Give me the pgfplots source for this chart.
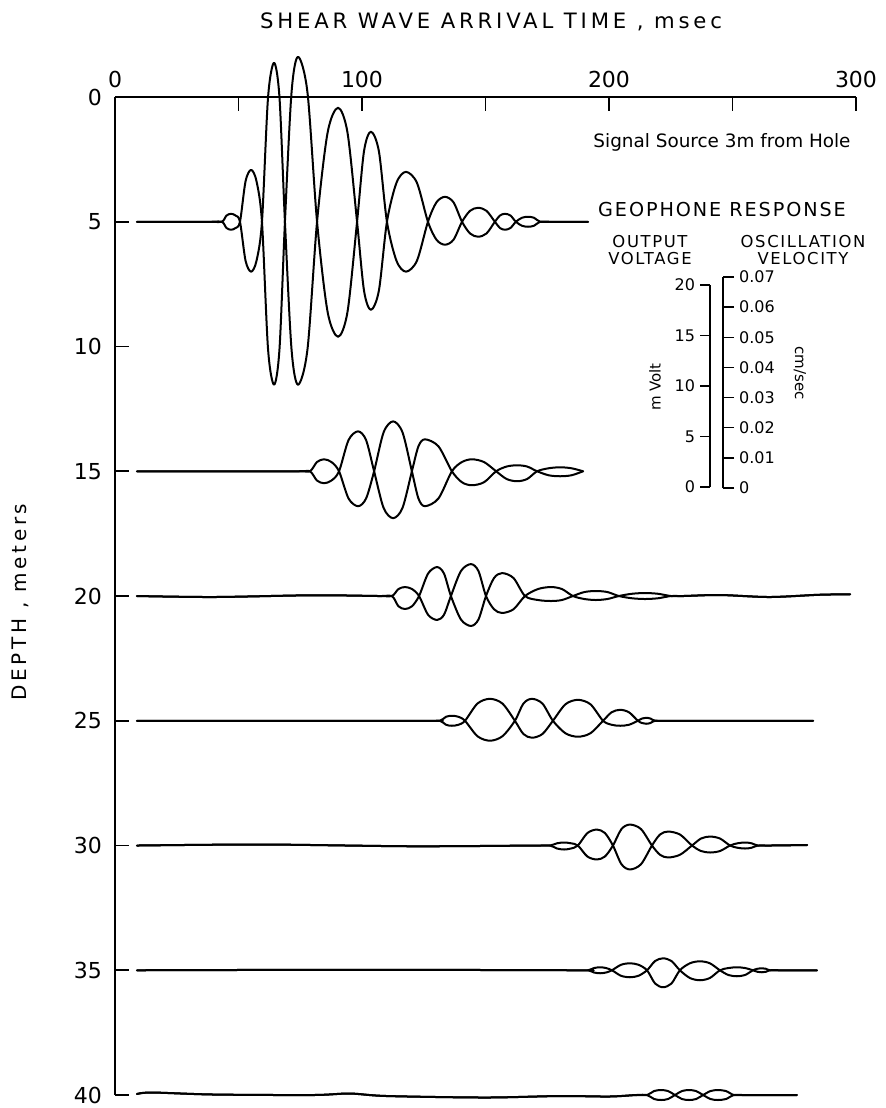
\documentclass[border=0pt]{standalone}
\usepackage{fontspec}
\setmainfont{DejaVu Sans}
\newfontfamily\wideA[LetterSpace=18]{DejaVu Sans}
\newfontfamily\wideB[LetterSpace=10]{DejaVu Sans}
\usepackage{pgfplots}
\usepackage{pgfplotstable}
\pgfplotsset{compat=1.18}

% Geophone traces: t = arrival time (msec), a and b = the two mirrored
% pen traces, written as depth (m) so that each wiggle sits on its depth line.
\pgfplotstableread{
t a b
8.9 5 5
25 5 5
39 5 5
43.3 5 5
45.15 4.75 5.25
47.0 4.68 5.32
48.8 4.75 5.25
50.6 5 5
52.85 6.56 3.38
55.1 7.0 2.92
57.3 6.56 3.38
59.5 5 5
61.95 0.03 10.09
64.4 -1.37 11.53
66.6 0.03 10.09
68.8 5 5
71.45 10.09 -0.16
74.1 11.53 -1.61
77.95 10.09 -0.16
81.8 5 5
86.05 1.44 8.60
90.3 0.43 9.61
94.15 1.44 8.60
98.0 5 5
100.8 7.75 2.18
103.6 8.53 1.39
106.85 7.75 2.18
110.1 5 5
113.95 3.44 6.56
117.8 3.0 7.0
122.25 3.44 6.56
126.7 5 5
130.15 5.72 4.22
133.6 5.92 4.0
137.05 5.72 4.22
140.5 5 5
143.75 4.56 5.47
147.0 4.44 5.6
150.4 4.56 5.47
153.8 5 5
155.85 5.25 4.75
157.9 5.32 4.68
160.1 5.25 4.75
162.3 5 5
164.75 4.84 5.16
167.2 4.8 5.2
169.65 4.84 5.16
172.1 5 5
176 5 5
191.5 5 5
}\tracefive

\pgfplotstableread{
t a b
8.9 15 15
40 15 15
74 15 15
78.9 15 15
81.75 14.63 15.37
84.6 14.52 15.48
87.65 14.63 15.37
90.7 15 15
94.55 16.09 13.75
98.4 16.40 13.40
101.65 16.09 13.75
104.9 15 15
108.75 13.44 16.47
112.6 13.0 16.88
116.4 13.44 16.47
120.2 15 15
122.85 16.09 14.0
125.5 16.40 13.72
130.95 16.09 14.0
136.4 15 15
140.45 14.63 15.44
144.5 14.52 15.56
149.4 14.63 15.44
154.3 15 15
158.55 15.31 14.81
162.8 15.4 14.76
166.85 15.31 14.81
170.9 15 15
175.55 14.88 15.16
180.2 14.84 15.2
184.85 14.88 15.16
189.5 15 15
}\tracefifteen

\pgfplotstableread{
t a b
8.9 20 20
40 20.04 20.04
80 19.97 19.97
107 20 20
112.1 20 20
114.75 19.72 20.41
117.4 19.64 20.52
120.25 19.72 20.41
123.1 20 20
126.75 20.75 19.10
130.4 20.96 18.84
133.2 20.75 19.10
136.0 20 20
140.05 19.0 20.94
144.1 18.72 21.20
147.15 19.0 20.94
150.2 20 20
153.45 20.53 19.28
156.7 20.68 19.08
161.35 20.53 19.28
166.0 20 20
171.25 19.72 20.16
176.5 19.64 20.2
180.95 19.72 20.16
185.4 20 20
190.05 20.12 19.84
194.7 20.16 19.8
199.35 20.12 19.84
204.0 20 20
209.3 19.91 20.09
214.6 19.88 20.12
219.85 19.91 20.09
225.1 20 20
230 20 20
245 19.96 19.96
265 20.04 20.04
285 19.95 19.95
297.6 19.93 19.93
}\tracetwenty

\pgfplotstableread{
t a b
8.9 25 25
60 25 25
127 25 25
131.6 25 25
134.0 24.84 25.16
136.4 24.8 25.2
139.05 24.84 25.16
141.7 25 25
146.75 25.62 24.31
151.8 25.8 24.12
156.85 25.62 24.31
161.9 25 25
165.35 24.31 25.53
168.8 24.12 25.68
173.05 24.31 25.53
177.3 25 25
182.35 25.50 24.34
187.4 25.64 24.16
192.5 25.50 24.34
197.6 25 25
201.05 24.66 25.16
204.5 24.56 25.2
208.1 24.66 25.16
211.7 25 25
213.35 25.09 24.91
215.0 25.12 24.88
216.8 25.09 24.91
218.6 25 25
223 25 25
282.6 25 25
}\tracetwentyfive

\pgfplotstableread{
t a b
8.9 30 30
60 29.96 29.96
120 30.03 30.03
171 30 30
176.1 30 30
178.95 29.91 30.12
181.8 29.88 30.16
184.6 29.91 30.12
187.4 30 30
191.25 30.44 29.50
195.1 30.56 29.36
198.35 30.44 29.50
201.6 30 30
205.05 29.34 30.75
208.5 29.16 30.96
212.95 29.34 30.75
217.4 30 30
220.65 30.37 29.56
223.9 30.48 29.44
228.75 30.37 29.56
233.6 30 30
237.25 29.72 30.22
240.9 29.64 30.28
244.95 29.72 30.22
249.0 30 30
252.05 30.09 29.91
255.1 30.12 29.88
257.7 30.09 29.91
260.3 30 30
265 30 30
280.2 29.98 29.98
}\tracethirty

\pgfplotstableread{
t a b
8.9 35 35
100 34.98 34.98
187 35 35
191.5 35 35
193.95 34.91 35.09
196.4 34.88 35.12
198.8 34.91 35.09
201.2 35 35
204.85 35.22 34.78
208.5 35.28 34.72
211.95 35.22 34.78
215.4 35 35
218.65 34.63 35.53
221.9 34.52 35.68
225.3 34.63 35.53
228.7 35 35
232.75 35.31 34.72
236.8 35.4 34.64
240.85 35.31 34.72
244.9 35 35
248.35 34.91 35.19
251.8 34.88 35.24
255.05 34.91 35.19
258.3 35 35
260.1 35.06 34.94
261.9 35.08 34.92
263.55 35.06 34.94
265.2 35 35
270 35 35
284.2 35 35
}\tracethirtyfive

\pgfplotstableread{
t a b
8.9 39.96 39.96
15 39.9 39.9
40 39.98 39.98
80 40.0 40.0
95 39.94 39.94
110 40.04 40.04
150 40.1 40.1
180 40.04 40.04
200 40.06 40.06
211 40 40
215.4 40 40
218.25 39.84 40.16
221.1 39.8 40.2
223.9 39.84 40.16
226.7 40 40
229.55 40.16 39.84
232.4 40.2 39.8
235.25 40.16 39.84
238.1 40 40
241.1 39.84 40.16
244.1 39.8 40.2
247.35 39.84 40.16
250.6 40 40
255 40 40
276.1 40 40
}\tracefourty

\begin{document}
\begin{tikzpicture}[x=1pt,y=1pt]
\useasboundingbox (0,0) rectangle (443,-554);

\begin{axis}[
  at={(57.5pt,-48.5pt)}, anchor=north west,
  scale only axis, width=370.5pt, height=499pt,
  xmin=0, xmax=300, ymin=0, ymax=40, y dir=reverse,
  axis x line*=top, axis y line*=left,
  xtick={0,100,200,300}, minor xtick={50,150,250},
  ytick={0,5,...,40},
  tick align=inside,
  major tick length=7pt, minor tick length=7pt,
  axis line style={line width=1.2pt, -},
  every tick/.style={black, line width=0.8pt},
  ticklabel style={font=\fontsize{11}{12}\selectfont},
  /pgf/number format/assume math mode=true,
  xticklabel style={yshift=1pt},
  yticklabel style={xshift=-3pt},
  clip=false,
  trace/.style={black, line width=1pt, smooth, no markers, line cap=round, line join=round},
]
\addplot[trace] table[x=t,y=a] {\tracefive};
\addplot[trace] table[x=t,y=b] {\tracefive};
\addplot[trace] table[x=t,y=a] {\tracefifteen};
\addplot[trace] table[x=t,y=b] {\tracefifteen};
\addplot[trace] table[x=t,y=a] {\tracetwenty};
\addplot[trace] table[x=t,y=b] {\tracetwenty};
\addplot[trace] table[x=t,y=a] {\tracetwentyfive};
\addplot[trace] table[x=t,y=b] {\tracetwentyfive};
\addplot[trace] table[x=t,y=a] {\tracethirty};
\addplot[trace] table[x=t,y=b] {\tracethirty};
\addplot[trace] table[x=t,y=a] {\tracethirtyfive};
\addplot[trace] table[x=t,y=b] {\tracethirtyfive};
\addplot[trace] table[x=t,y=a] {\tracefourty};
\addplot[trace] table[x=t,y=b] {\tracefourty};
\end{axis}

% output-voltage scale bar
\begin{axis}[
  at={(355pt,-243.5pt)}, anchor=south west,
  scale only axis, width=5pt, height=101pt,
  xmin=0, xmax=1, ymin=0, ymax=20,
  axis x line=none, axis y line*=left,
  ytick={0,5,10,15,20},
  tick align=outside, major tick length=5pt,
  axis line style={line width=1.4pt, -},
  every tick/.style={black, line width=0.7pt},
  yticklabel style={font=\fontsize{8}{9}\selectfont, xshift=1pt},
  /pgf/number format/assume math mode=true,
]
\end{axis}

% oscillation-velocity scale bar
\begin{axis}[
  at={(361.5pt,-244pt)}, anchor=south east,
  scale only axis, width=5pt, height=105.5pt,
  xmin=0, xmax=1, ymin=0, ymax=0.07,
  axis x line=none, axis y line*=right,
  scaled y ticks=false,
  ytick={0,0.01,0.02,0.03,0.04,0.05,0.06,0.07},
  yticklabels={0,0.01,0.02,0.03,0.04,0.05,0.06,0.07},
  tick align=outside, major tick length=5.5pt,
  axis line style={line width=1.4pt, -},
  every tick/.style={black, line width=0.7pt},
  yticklabel style={font=\fontsize{8}{9}\selectfont, xshift=-1pt},
]
\end{axis}

\node[font=\wideA\fontsize{10.6}{12}\selectfont] at (245.5,-11) {SHEAR WAVE ARRIVAL TIME , msec};
\node[font=\wideA\fontsize{10}{12}\selectfont, rotate=90] at (10,-301) {DEPTH , meters};
\node[font=\fontsize{9.2}{11}\selectfont] at (361,-71) {Signal Source 3m from Hole};
\node[font=\wideB\fontsize{9.6}{11}\selectfont] at (361,-105) {GEOPHONE RESPONSE};
\node[font=\wideB\fontsize{8.2}{9}\selectfont, align=center] at (325,-125) {OUTPUT\\[-0.5pt]VOLTAGE};
\node[font=\wideB\fontsize{8.2}{9}\selectfont, align=center] at (401.5,-125) {OSCILLATION\\[-0.5pt]VELOCITY};
\node[font=\fontsize{7.5}{8}\selectfont, rotate=90] at (327.5,-193.5) {m Volt};
\node[font=\fontsize{7.5}{8}\selectfont, rotate=-90] at (400,-186.5) {cm/sec};
\end{tikzpicture}
\end{document}
